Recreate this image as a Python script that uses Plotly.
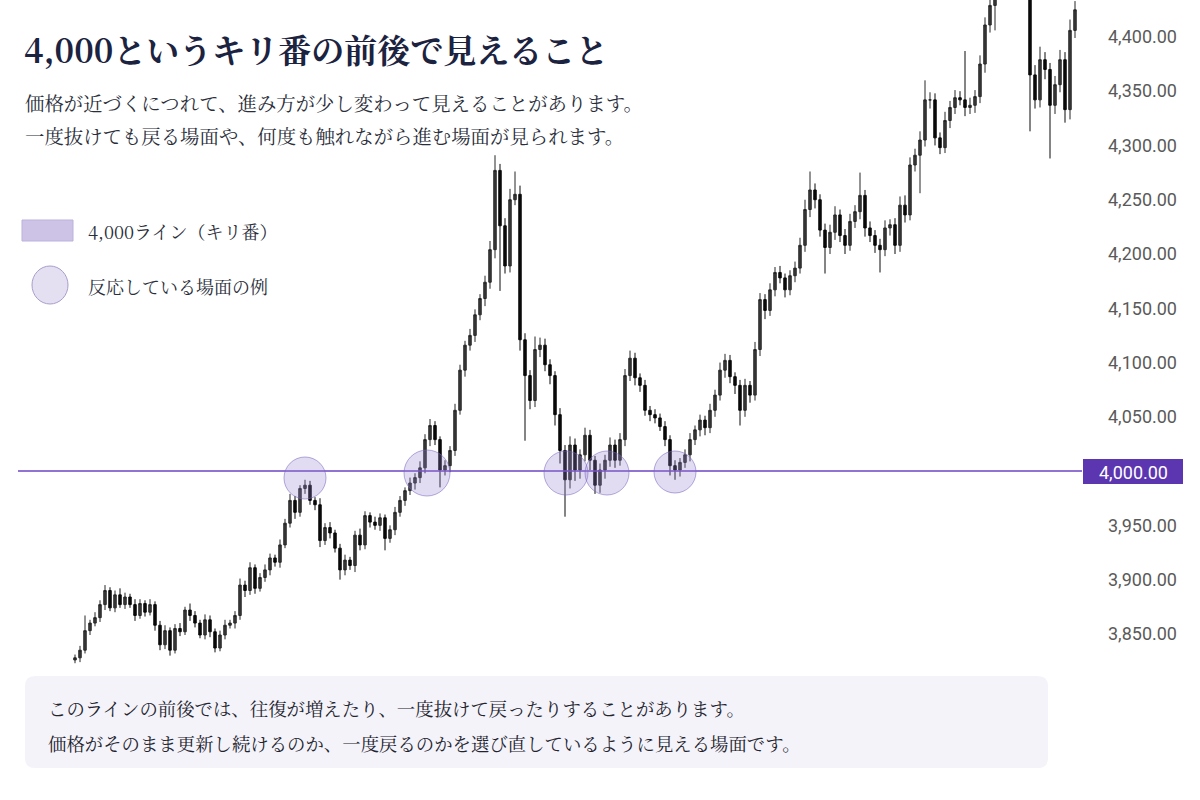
import plotly.graph_objects as go

# ---------------- data ----------------
closes = [3828,3835,3853,3860,3865,3877,3890,3874,3886,3877,
          3884,3877,3867,3878,3870,3877,3858,3840,3853,3835,
          3855,3852,3872,3867,3860,3849,3863,3852,3837,3849,
          3858,3860,3867,3895,3890,3911,3892,3902,3909,3920,
          3916,3932,3952,3973,3962,3984,3987,3973,3969,3936,
          3948,3943,3929,3909,3918,3913,3941,3932,3959,3953,
          3950,3957,3938,3946,3962,3973,3982,3989,3994,4003,
          4029,4042,4029,4001,4005,4019,4056,4093,4116,4125,
          4144,4159,4174,4204,4277,4226,4189,4250,4255,4121,
          4088,4065,4112,4116,4098,4088,4052,4019,3992,4024,
          4001,4015,4033,4010,3987,4001,4010,4024,4010,4029,
          4088,4104,4086,4079,4056,4052,4049,4041,4029,4005,
          4001,4008,4015,4029,4038,4047,4040,4056,4070,4093,
          4102,4087,4079,4056,4079,4070,4112,4158,4148,4167,
          4183,4178,4167,4180,4187,4208,4241,4259,4250,4222,
          4206,4220,4236,4217,4208,4230,4239,4254,4224,4217,
          4208,4204,4224,4227,4208,4245,4236,4282,4291,4305,
          4342,4342,4307,4298,4323,4335,4344,4342,4335,4337,
          4345,4375,4411,4429,4448,4460,4470,4475,4465,4460,
          4450,4365,4342,4379,4370,4337,4356,4379,4333,4406,
          4425]
first_open = 3826
wick_up = [3,4,14,3,5,4,5,3,4,6,
           4,3,5,4,3,5,3,4,5,3,
           4,5,3,6,4,3,5,4,3,4,
           5,3,4,6,4,5,3,4,5,4,
           3,5,4,6,4,3,5,4,3,6,
           4,5,3,4,5,3,4,6,4,3,
           5,4,3,4,5,4,3,5,4,6,
           5,6,4,3,5,4,6,5,4,6,
           5,4,6,8,14,6,7,10,21,8,
           6,5,12,7,6,5,4,6,5,8,
           6,5,7,5,4,6,5,7,5,6,
           6,7,5,4,5,4,5,4,5,4,
           5,4,5,6,4,5,4,6,5,7,
           6,5,4,5,6,4,7,6,5,6,
           5,6,4,5,6,7,9,17,6,5,
           6,7,8,5,6,7,6,21,5,6,
           5,6,7,5,6,8,9,7,6,8,
           18,7,6,5,8,6,7,6,45,7,
           6,8,7,6,8,7,9,6,7,6,
           8,5,9,12,7,6,8,9,7,10,
           8]
wick_dn = [3,4,3,4,3,4,5,3,4,3,
           4,3,5,3,4,3,5,5,4,5,
           3,4,3,5,4,3,4,5,4,3,
           4,3,5,4,6,4,5,3,4,5,
           4,5,3,4,6,4,5,4,5,6,
           4,5,4,9,5,4,6,5,4,5,
           4,5,11,4,5,4,5,4,6,5,
           5,6,5,16,5,6,5,4,6,5,
           6,5,7,6,8,60,7,6,5,10,
           60,8,6,7,6,8,10,12,34,8,
           10,8,6,9,8,7,8,6,7,5,
           6,5,7,6,5,6,5,4,6,9,
           9,6,5,6,5,6,7,5,6,5,
           7,6,8,14,6,7,5,6,8,5,
           6,5,7,5,6,5,6,7,8,6,
           24,6,7,6,8,5,6,7,8,6,
           7,21,6,7,8,6,7,5,6,35,
           6,8,7,6,5,7,6,5,8,6,
           7,6,8,7,23,8,7,6,8,7,
           8,52,8,7,9,49,8,7,12,9,
           7]
tick_vals = [3850, 3900, 3950, 4050, 4100, 4150, 4200, 4250, 4300, 4350, 4400]
line_level = 4000

title = "4,000というキリ番の前後で見えること"
sub1 = "価格が近づくにつれて、進み方が少し変わって見えることがあります。"
sub2 = "一度抜けても戻る場面や、何度も触れながら進む場面が見られます。"
legend1 = "4,000ライン（キリ番）"
legend2 = "反応している場面の例"
note1 = "このラインの前後では、往復が増えたり、一度抜けて戻ったりすることがあります。"
note2 = "価格がそのまま更新し続けるのか、一度戻るのかを選び直しているように見える場面です。"

# ---------------- derived OHLC ----------------
idx = list(range(len(closes)))
opens = [first_open] + closes[:-1]
highs = [max(o, c) + u for o, c, u in zip(opens, closes, wick_up)]
lows = [min(o, c) - d for o, c, d in zip(opens, closes, wick_dn)]

# ---------------- layout helpers ----------------
W, H = 1107, 800
def px(x):
    return x / W
def py(y):
    return 1 - y / H

JP = "Noto Serif CJK JP, Noto Sans CJK JP, serif"
SANS = "Roboto, Inter, sans-serif"

fig = go.Figure()
fig.add_trace(go.Candlestick(
    x=idx, open=opens, high=highs, low=lows, close=closes,
    increasing=dict(line=dict(color="#262626", width=1), fillcolor="#3a3a3a"),
    decreasing=dict(line=dict(color="#0a0a0a", width=1), fillcolor="#0a0a0a"),
    whiskerwidth=0, showlegend=False, hoverinfo="skip",
))

shapes = []
shapes.append(dict(type="line", xref="paper", yref="y", x0=px(18), x1=px(1082),
                   y0=line_level, y1=line_level, line=dict(color="#6c45c4", width=1.5), layer="above"))
for cx, cy, r in [(305, 478, 21), (427, 473, 23), (566, 473, 22), (607, 473, 22), (675, 472, 21)]:
    shapes.append(dict(type="circle", xref="paper", yref="paper",
                       x0=px(cx - r), x1=px(cx + r), y0=py(cy + r), y1=py(cy - r),
                       fillcolor="rgba(150,130,210,0.28)", line=dict(color="rgba(120,100,190,0.55)", width=1),
                       layer="above"))
shapes.append(dict(type="rect", xref="paper", yref="paper", x0=px(1083), x1=px(1183),
                   y0=py(484), y1=py(459), fillcolor="#5b36b0", line=dict(width=0), layer="above"))
shapes.append(dict(type="rect", xref="paper", yref="paper", x0=px(22), x1=px(73),
                   y0=py(241), y1=py(220), fillcolor="#cdc3e6", line=dict(color="#bdb1dc", width=1)))
shapes.append(dict(type="circle", xref="paper", yref="paper", x0=px(32), x1=px(68),
                   y0=py(304), y1=py(266), fillcolor="#e5e0f1", line=dict(color="#a99dcc", width=1)))
x0b, x1b, y0b, y1b, rr = 25, 1048, 676, 768, 10
path = (f"M {px(x0b+rr)},{py(y0b)} L {px(x1b-rr)},{py(y0b)} Q {px(x1b)},{py(y0b)} {px(x1b)},{py(y0b+rr)} "
        f"L {px(x1b)},{py(y1b-rr)} Q {px(x1b)},{py(y1b)} {px(x1b-rr)},{py(y1b)} "
        f"L {px(x0b+rr)},{py(y1b)} Q {px(x0b)},{py(y1b)} {px(x0b)},{py(y1b-rr)} "
        f"L {px(x0b)},{py(y0b+rr)} Q {px(x0b)},{py(y0b)} {px(x0b+rr)},{py(y0b)} Z")
shapes.append(dict(type="path", xref="paper", yref="paper", path=path,
                   fillcolor="#f4f3fa", line=dict(width=0), layer="above"))

ann = []
def text(x, y, s, size, color, family=JP, anchor="left"):
    ann.append(dict(x=px(x), y=py(y), xref="paper", yref="paper", text=s, showarrow=False,
                    xanchor=anchor, yanchor="middle", font=dict(size=size, color=color, family=family)))

text(22, 48, "<b>" + title + "</b>", 33, "#1b2340")
text(23, 103, sub1, 19.4, "#2a2e3a")
text(23, 136, sub2, 19.4, "#2a2e3a")
text(86, 231, legend1, 18, "#2a2e3a")
text(86, 286, legend2, 18, "#2a2e3a")
text(46, 708, note1, 18.4, "#23232d")
text(46, 743, note2, 18.4, "#23232d")
text(1133, 472, "4,000.00", 18, "#ffffff", family=SANS, anchor="center")

fig.update_layout(
    width=1200, height=800,
    margin=dict(l=0, r=93, t=0, b=0),
    plot_bgcolor="white", paper_bgcolor="white",
    shapes=shapes, annotations=ann,
    xaxis=dict(visible=False, range=[-15, -15 + W / 5], rangeslider=dict(visible=False), fixedrange=True),
    yaxis=dict(side="right", range=[3697, 4434], tickvals=tick_vals, tickformat=",.2f",
               showgrid=False, zeroline=False, showline=False, ticks="",
               tickfont=dict(size=18, color="#5a5a5a", family=SANS)),
)

fig.write_html("out.html", config={"displayModeBar": False},
               post_script="document.body.style.margin='0';document.body.style.padding='0';")
